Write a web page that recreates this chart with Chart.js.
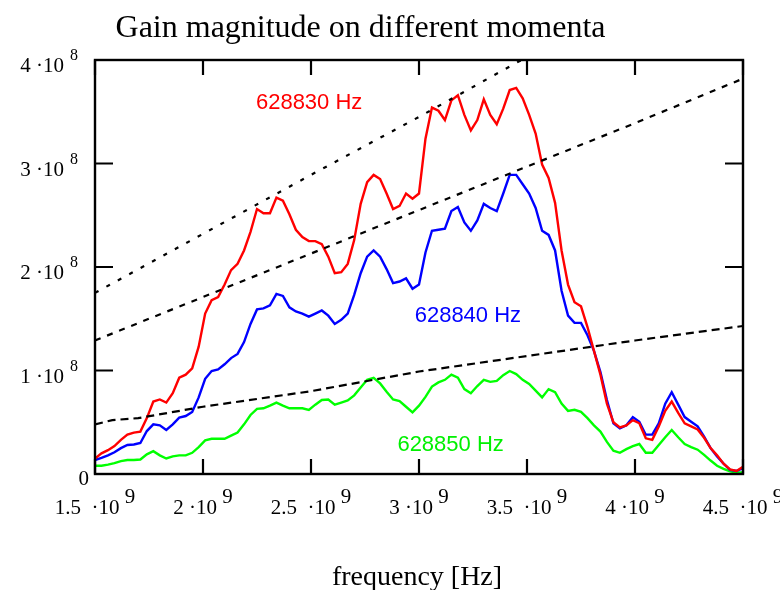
<!DOCTYPE html>
<html>
<head>
<meta charset="utf-8">
<title>Gain magnitude on different momenta</title>
<script src="https://cdn.jsdelivr.net/npm/chart.js@4/dist/chart.umd.min.js"></script>
<style>
  html, body { margin: 0; padding: 0; background: #ffffff; }
  canvas { display: block; }
</style>
</head>
<body>
<canvas id="gainChart" width="780" height="590"></canvas>
<script>
// Sweep frequencies in GHz
const freqGHz = [
  1.50,1.53,1.56,1.59,1.62,1.65,1.68,1.71,1.74,1.77,
  1.80,1.83,1.86,1.89,1.92,1.95,1.98,2.01,2.04,2.07,
  2.10,2.13,2.16,2.19,2.22,2.25,2.28,2.31,2.34,2.37,
  2.40,2.43,2.46,2.49,2.52,2.55,2.58,2.61,2.64,2.67,
  2.70,2.73,2.76,2.79,2.82,2.85,2.88,2.91,2.94,2.97,
  3.00,3.03,3.06,3.09,3.12,3.15,3.18,3.21,3.24,3.27,
  3.30,3.33,3.36,3.39,3.42,3.45,3.48,3.51,3.54,3.57,
  3.60,3.63,3.66,3.69,3.72,3.75,3.78,3.81,3.84,3.87,
  3.90,3.93,3.96,3.99,4.02,4.05,4.08,4.11,4.14,4.17,
  4.20,4.23,4.26,4.29,4.32,4.35,4.38,4.41,4.44,4.47,
  4.50
];

// Gain magnitude, in units of 1e8
const gain628830 = [
  0.15,0.20,0.23,0.27,0.33,0.38,0.40,0.41,0.54,0.70,
  0.72,0.69,0.78,0.93,0.96,1.02,1.23,1.55,1.68,1.71,
  1.83,1.97,2.03,2.16,2.34,2.56,2.52,2.52,2.67,2.64,
  2.51,2.36,2.29,2.25,2.25,2.22,2.10,1.94,1.95,2.03,
  2.26,2.61,2.82,2.89,2.85,2.71,2.56,2.59,2.71,2.66,
  2.71,3.24,3.54,3.51,3.42,3.61,3.66,3.47,3.32,3.42,
  3.62,3.47,3.38,3.53,3.71,3.73,3.63,3.47,3.29,2.99,
  2.86,2.62,2.16,1.83,1.66,1.62,1.42,1.19,0.96,0.68,
  0.50,0.45,0.47,0.52,0.49,0.345,0.33,0.46,0.61,0.70,
  0.59,0.49,0.46,0.43,0.35,0.25,0.18,0.10,0.045,0.03,
  0.07
];
const gain628840 = [
  0.135,0.155,0.18,0.21,0.25,0.28,0.285,0.30,0.415,0.48,
  0.47,0.425,0.48,0.545,0.56,0.60,0.74,0.92,0.995,1.01,
  1.06,1.12,1.16,1.275,1.45,1.59,1.60,1.63,1.74,1.72,
  1.61,1.57,1.55,1.52,1.55,1.58,1.53,1.45,1.49,1.55,
  1.73,1.94,2.10,2.16,2.10,1.98,1.845,1.86,1.89,1.79,
  1.83,2.14,2.35,2.36,2.37,2.54,2.58,2.43,2.35,2.45,
  2.61,2.57,2.54,2.71,2.89,2.89,2.80,2.71,2.57,2.35,
  2.31,2.16,1.77,1.53,1.46,1.46,1.34,1.19,0.985,0.715,
  0.49,0.44,0.47,0.55,0.505,0.38,0.38,0.49,0.68,0.79,
  0.67,0.55,0.505,0.46,0.36,0.25,0.17,0.10,0.04,0.03,
  0.055
];
const gain628850 = [
  0.08,0.08,0.09,0.105,0.125,0.135,0.135,0.14,0.19,0.22,
  0.18,0.15,0.17,0.18,0.18,0.205,0.26,0.325,0.34,0.34,
  0.34,0.37,0.40,0.48,0.57,0.63,0.635,0.66,0.69,0.66,
  0.635,0.635,0.635,0.62,0.67,0.715,0.72,0.67,0.69,0.71,
  0.76,0.835,0.91,0.93,0.875,0.795,0.72,0.705,0.65,0.595,
  0.66,0.745,0.845,0.885,0.91,0.96,0.93,0.82,0.78,0.85,
  0.91,0.89,0.90,0.955,0.995,0.965,0.91,0.87,0.805,0.74,
  0.82,0.79,0.68,0.61,0.62,0.60,0.54,0.47,0.41,0.31,
  0.225,0.205,0.24,0.27,0.29,0.205,0.205,0.28,0.355,0.425,
  0.355,0.29,0.26,0.235,0.185,0.13,0.08,0.05,0.025,0.015,
  0.015
];

// Reference (envelope) lines: GHz / 1e8
const upperRefF = [1.50, 2.00, 2.50, 3.00, 3.50];
const upperRefV = [1.75, 2.32, 2.89, 3.45, 4.03];
const middleRefF = [1.50, 2.00, 2.50, 3.00, 3.50, 4.00, 4.50];
const middleRefV = [1.29, 1.71, 2.13, 2.55, 2.97, 3.39, 3.82];
const lowerRefF = [1.50, 1.58, 1.70, 2.00, 2.50, 3.00, 3.50, 4.00, 4.50];
const lowerRefV = [0.48, 0.52, 0.54, 0.65, 0.80, 0.99, 1.14, 1.29, 1.43];

// Axis ticks
const xTickGHz = [1.5, 2.0, 2.5, 3.0, 3.5, 4.0, 4.5];
const xTickText = ["1.5  \u00b710", "2 \u00b710", "2.5  \u00b710", "3 \u00b710", "3.5  \u00b710", "4 \u00b710", "4.5  \u00b710"];
const xTickExp = "9";
const yTickVal = [0, 1, 2, 3, 4];
const yTickText = ["0", "1 \u00b710", "2 \u00b710", "3 \u00b710", "4 \u00b710"];
const yTickExp = ["", "8", "8", "8", "8"];

const chartTitle = "Gain magnitude on different momenta";
const xAxisTitle = "frequency [Hz]";
const seriesNames = ["628830 Hz", "628840 Hz", "628850 Hz"];

const GHZ = 1e9;
const UNIT = 1e8;

const toPoints = (fs, vs) => fs.map((f, i) => ({ x: f * GHZ, y: vs[i] * UNIT }));

const SERIF = '"Liberation Serif", "Times New Roman", serif';
const SANS = '"Liberation Sans", Arial, sans-serif';

// Curve captions, placed in data coordinates (left edge / baseline)
const captions = [
  { text: seriesNames[0], color: '#ff0000', f: 2.245, v: 3.53 },
  { text: seriesNames[1], color: '#0000ff', f: 2.980, v: 1.47 },
  { text: seriesNames[2], color: '#00f000', f: 2.900, v: 0.22 }
];

const framePlugin = {
  id: 'mathFrame',
  afterDatasetsDraw(chart) {
    const { ctx, chartArea: a, scales } = chart;
    const xs = scales.x, ys = scales.y;
    ctx.save();

    // box around the plot region
    ctx.strokeStyle = '#000';
    ctx.lineWidth = 2.4;
    ctx.strokeRect(a.left, a.top, a.right - a.left, a.bottom - a.top);

    // inward ticks on all four sides
    ctx.lineWidth = 2.2;
    ctx.beginPath();
    xTickGHz.forEach(g => {
      const px = xs.getPixelForValue(g * GHZ);
      ctx.moveTo(px, a.bottom); ctx.lineTo(px, a.bottom - 15);
      ctx.moveTo(px, a.top); ctx.lineTo(px, a.top + 15);
    });
    yTickVal.forEach(v => {
      const py = ys.getPixelForValue(v * UNIT);
      ctx.moveTo(a.left, py); ctx.lineTo(a.left + 18, py);
      ctx.moveTo(a.right, py); ctx.lineTo(a.right - 18, py);
    });
    ctx.stroke();

    ctx.fillStyle = '#000';
    ctx.textBaseline = 'alphabetic';

    // x tick labels: mantissa ·10 with raised exponent
    ctx.font = '21px ' + SERIF;
    const sp = ctx.measureText(' ').width;
    xTickGHz.forEach((g, i) => {
      const px = xs.getPixelForValue(g * GHZ);
      const w1 = ctx.measureText(xTickText[i]).width;
      const w2 = ctx.measureText(xTickExp).width;
      const start = px - (w1 + sp + w2) / 2;
      ctx.textAlign = 'left';
      ctx.fillText(xTickText[i], start, a.bottom + 40);
      ctx.fillText(xTickExp, start + w1 + sp, a.bottom + 29);
    });

    // y tick labels
    yTickVal.forEach((v, i) => {
      const py = ys.getPixelForValue(v * UNIT);
      ctx.textAlign = 'right';
      if (yTickExp[i]) {
        ctx.font = '16px ' + SERIF;
        const we = ctx.measureText(yTickExp[i]).width;
        const right = a.left - 17;
        ctx.fillText(yTickExp[i], right, py);
        ctx.font = '21px ' + SERIF;
        ctx.fillText(yTickText[i], right - we - 6, py + 12);
      } else {
        ctx.font = '21px ' + SERIF;
        ctx.fillText(yTickText[i], a.left - 6, py + 11);
      }
    });

    // titles
    ctx.textAlign = 'center';
    ctx.font = '32px ' + SERIF;
    ctx.fillText(chartTitle, 360.5, 37);
    ctx.font = '28px ' + SERIF;
    ctx.fillText(xAxisTitle, (a.left + a.right) / 2 - 2, 585);

    // series captions
    ctx.textAlign = 'left';
    ctx.font = '22px ' + SANS;
    captions.forEach(c => {
      ctx.fillStyle = c.color;
      ctx.fillText(c.text, xs.getPixelForValue(c.f * GHZ), ys.getPixelForValue(c.v * UNIT));
    });

    ctx.restore();
  }
};

const refLine = (fs, vs, dash) => ({
  data: toPoints(fs, vs),
  borderColor: '#000000',
  borderWidth: 2.2,
  borderDash: dash,
  pointRadius: 0,
  tension: 0,
  fill: false
});
const curve = (vs, color) => ({
  data: toPoints(freqGHz, vs),
  borderColor: color,
  borderWidth: 2.4,
  pointRadius: 0,
  tension: 0,
  fill: false
});

new Chart(document.getElementById('gainChart'), {
  type: 'line',
  data: {
    datasets: [
      refLine(upperRefF, upperRefV, [4, 9]),
      refLine(middleRefF, middleRefV, [6, 7]),
      refLine(lowerRefF, lowerRefV, [8, 5]),
      curve(gain628830, '#ff0000'),
      curve(gain628840, '#0000ff'),
      curve(gain628850, '#00ff00')
    ]
  },
  options: {
    responsive: false,
    animation: false,
    events: [],
    layout: { padding: { left: 95, right: 37, top: 60, bottom: 116 } },
    plugins: {
      legend: { display: false },
      title: { display: false },
      tooltip: { enabled: false }
    },
    scales: {
      x: { type: 'linear', min: 1.5 * GHZ, max: 4.5 * GHZ, display: false },
      y: { type: 'linear', min: 0, max: 4 * UNIT, display: false }
    }
  },
  plugins: [framePlugin]
});
</script>
</body>
</html>
